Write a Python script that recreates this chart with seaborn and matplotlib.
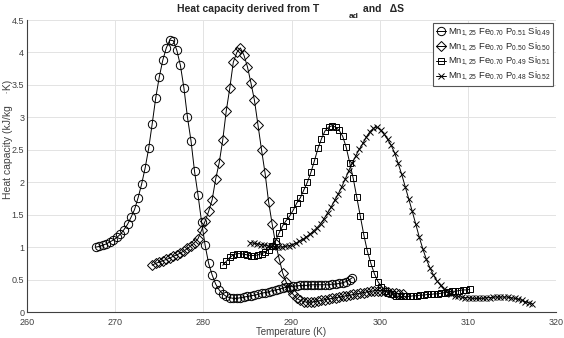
import numpy as np
import pandas as pd
import matplotlib
matplotlib.use("Agg")
import matplotlib.pyplot as plt
import seaborn as sns

# Mn1.25 Fe0.70 P0.51 Si0.49 (circles)
t_051 = [267.8, 268.2, 268.6, 269.0, 269.4, 269.8, 270.2, 270.6, 271.0, 271.4,
         271.8, 272.2, 272.6, 273.0, 273.4, 273.8, 274.2, 274.6, 275.0, 275.4,
         275.8, 276.2, 276.6, 277.0, 277.4, 277.8, 278.2, 278.6, 279.0, 279.4,
         279.8, 280.2, 280.6, 281.0, 281.4, 281.8, 282.2, 282.6, 283.0, 283.4,
         283.8, 284.2, 284.6, 285.0, 285.4, 285.8, 286.2, 286.6, 287.0, 287.4,
         287.8, 288.2, 288.6, 289.0, 289.4, 289.8, 290.2, 290.6, 291.0, 291.4,
         291.8, 292.2, 292.6, 293.0, 293.4, 293.8, 294.2, 294.6, 295.0, 295.4,
         295.8, 296.2, 296.6, 296.9]
cp_051 = [1.00, 1.01, 1.03, 1.05, 1.08, 1.11, 1.15, 1.20, 1.27, 1.35,
          1.46, 1.58, 1.76, 1.97, 2.22, 2.52, 2.90, 3.30, 3.62, 3.88,
          4.07, 4.19, 4.18, 4.03, 3.80, 3.45, 3.00, 2.64, 2.17, 1.80,
          1.39, 1.03, 0.75, 0.57, 0.43, 0.34, 0.28, 0.24, 0.22, 0.21,
          0.21, 0.22, 0.23, 0.24, 0.25, 0.26, 0.27, 0.29, 0.30, 0.31,
          0.33, 0.34, 0.35, 0.37, 0.38, 0.39, 0.40, 0.40, 0.41, 0.41,
          0.41, 0.42, 0.42, 0.42, 0.42, 0.42, 0.42, 0.43, 0.43, 0.44,
          0.45, 0.47, 0.50, 0.53]

# Mn1.25 Fe0.70 P0.50 Si0.50 (diamonds)
t_050 = [274.2, 274.6, 275.0, 275.4, 275.8, 276.2, 276.6, 277.0, 277.4, 277.8,
         278.2, 278.6, 279.0, 279.4, 279.8, 280.2, 280.6, 281.0, 281.4, 281.8,
         282.2, 282.6, 283.0, 283.4, 283.8, 284.2, 284.6, 285.0, 285.4, 285.8,
         286.2, 286.6, 287.0, 287.4, 287.8, 288.2, 288.6, 289.0, 289.4, 289.8,
         290.2, 290.6, 291.0, 291.4, 291.8, 292.2, 292.6, 293.0, 293.4, 293.8,
         294.2, 294.6, 295.0, 295.4, 295.8, 296.2, 296.6, 297.0, 297.4, 297.8,
         298.2, 298.6, 299.0, 299.4, 299.8, 300.2, 300.6, 301.0, 301.4, 301.8,
         302.2, 302.6]
cp_050 = [0.72, 0.75, 0.77, 0.79, 0.81, 0.83, 0.86, 0.88, 0.91, 0.94,
          0.98, 1.02, 1.07, 1.13, 1.26, 1.40, 1.55, 1.73, 2.05, 2.30,
          2.65, 3.10, 3.45, 3.85, 4.00, 4.07, 3.96, 3.78, 3.53, 3.26,
          2.88, 2.50, 2.14, 1.70, 1.36, 1.05, 0.82, 0.60, 0.46, 0.35,
          0.27, 0.21, 0.18, 0.16, 0.15, 0.15, 0.16, 0.17, 0.18, 0.19,
          0.20, 0.21, 0.22, 0.23, 0.24, 0.25, 0.26, 0.27, 0.28, 0.29,
          0.30, 0.31, 0.32, 0.33, 0.33, 0.33, 0.32, 0.31, 0.30, 0.29,
          0.28, 0.27]

# Mn1.25 Fe0.70 P0.49 Si0.51 (squares)
t_049 = [282.2, 282.6, 283.0, 283.4, 283.8, 284.2, 284.6, 285.0, 285.4, 285.8,
         286.2, 286.6, 287.0, 287.4, 287.8, 288.2, 288.6, 289.0, 289.4, 289.8,
         290.2, 290.6, 291.0, 291.4, 291.8, 292.2, 292.6, 293.0, 293.4, 293.8,
         294.2, 294.6, 295.0, 295.4, 295.8, 296.2, 296.6, 297.0, 297.4, 297.8,
         298.2, 298.6, 299.0, 299.4, 299.8, 300.2, 300.6, 301.0, 301.4, 301.8,
         302.2, 302.6, 303.0, 303.4, 303.8, 304.2, 304.6, 305.0, 305.4, 305.8,
         306.2, 306.6, 307.0, 307.4, 307.8, 308.2, 308.6, 309.0, 309.4, 309.8,
         310.2]
cp_049 = [0.72, 0.78, 0.84, 0.88, 0.90, 0.90, 0.89, 0.88, 0.87, 0.87,
          0.88, 0.90, 0.92, 0.96, 1.02, 1.10, 1.22, 1.33, 1.41, 1.48,
          1.57, 1.68, 1.76, 1.88, 2.00, 2.15, 2.33, 2.52, 2.67, 2.79,
          2.85, 2.87, 2.85, 2.80, 2.71, 2.54, 2.30, 2.06, 1.77, 1.48,
          1.19, 0.94, 0.75, 0.59, 0.47, 0.39, 0.33, 0.29, 0.27, 0.25,
          0.24, 0.24, 0.24, 0.24, 0.25, 0.25, 0.26, 0.26, 0.27, 0.27,
          0.28, 0.28, 0.29, 0.30, 0.31, 0.32, 0.32, 0.33, 0.34, 0.34,
          0.35]

# Mn1.25 Fe0.70 P0.48 Si0.52 (crosses)
t_048 = [285.3, 285.7, 286.1, 286.5, 286.9, 287.3, 287.7, 288.1, 288.5, 288.9,
         289.3, 289.7, 290.1, 290.5, 290.9, 291.3, 291.7, 292.1, 292.5, 292.9,
         293.3, 293.7, 294.1, 294.5, 294.9, 295.3, 295.7, 296.1, 296.5, 296.9,
         297.3, 297.7, 298.1, 298.5, 298.9, 299.3, 299.7, 300.1, 300.5, 300.9,
         301.3, 301.7, 302.1, 302.5, 302.9, 303.3, 303.7, 304.1, 304.5, 304.9,
         305.3, 305.7, 306.1, 306.5, 306.9, 307.3, 307.7, 308.1, 308.5, 308.9,
         309.3, 309.7, 310.1, 310.5, 310.9, 311.3, 311.7, 312.1, 312.5, 312.9,
         313.3, 313.7, 314.1, 314.5, 314.9, 315.3, 315.7, 316.1, 316.5, 316.9,
         317.3]
cp_048 = [1.07, 1.06, 1.05, 1.04, 1.03, 1.02, 1.01, 1.00, 1.00, 1.00,
          1.01, 1.02, 1.04, 1.06, 1.09, 1.12, 1.16, 1.20, 1.25, 1.30,
          1.36, 1.44, 1.53, 1.62, 1.72, 1.82, 1.93, 2.05, 2.18, 2.30,
          2.41, 2.51, 2.60, 2.70, 2.78, 2.83, 2.85, 2.81, 2.74, 2.66,
          2.57, 2.45, 2.29, 2.12, 1.93, 1.74, 1.55, 1.35, 1.15, 0.97,
          0.81, 0.68, 0.57, 0.48, 0.41, 0.35, 0.30, 0.27, 0.25, 0.24,
          0.23, 0.22, 0.22, 0.21, 0.21, 0.21, 0.21, 0.22, 0.22, 0.23,
          0.23, 0.23, 0.23, 0.23, 0.22, 0.21, 0.20, 0.18, 0.16, 0.14,
          0.13]

labels = [r'Mn$_{1,25}$ Fe$_{0.70}$ P$_{0.51}$ Si$_{0.49}$',
          r'Mn$_{1,25}$ Fe$_{0.70}$ P$_{0.50}$ Si$_{0.50}$',
          r'Mn$_{1,25}$ Fe$_{0.70}$ P$_{0.49}$ Si$_{0.51}$',
          r'Mn$_{1,25}$ Fe$_{0.70}$ P$_{0.48}$ Si$_{0.52}$']

sns.set_style("whitegrid")
plt.rcParams['font.family'] = ['Liberation Sans', 'DejaVu Sans']
plt.rcParams['mathtext.default'] = 'regular'

fig = plt.figure(figsize=(5.64, 3.38), dpi=100)
ax = fig.add_axes([27 / 564, 26 / 338, 529 / 564, 292 / 338])

series = [(t_051, cp_051, 'o', 6.0), (t_050, cp_050, 'D', 5.0),
          (t_049, cp_049, 's', 5.0), (t_048, cp_048, 'x', 4.5)]
for (t, cp, m, ms), lab in zip(series, labels):
    df = pd.DataFrame({'T': t, 'cp': cp})
    sns.lineplot(data=df, x='T', y='cp', ax=ax, color='black', lw=0.7,
                 marker=m, markersize=ms, markerfacecolor='none',
                 markeredgecolor='black', markeredgewidth=0.7, label=lab)

ax.set_xlim(260, 320)
ax.set_ylim(0, 4.5)
ax.set_xticks(range(260, 321, 10))
ax.set_yticks(np.arange(0, 4.51, 0.5))
ax.set_yticklabels(['0', '0.5', '1', '1.5', '2', '2.5', '3', '3.5', '4', '4.5'])
ax.grid(True, color='#e3e3e3', lw=0.7)
ax.tick_params(direction='in', length=3, width=0.6, labelsize=6.5,
               colors='#404040')
ax.tick_params(axis='x', pad=4)
ax.tick_params(axis='y', pad=2)
for s in ['top', 'right']:
    ax.spines[s].set_visible(False)
for s in ['left', 'bottom']:
    ax.spines[s].set_color('#404040')
    ax.spines[s].set_linewidth(0.8)

ax.set_xlabel('Temperature (K)', fontsize=7, color='#404040', labelpad=0)
ax.set_ylabel('Heat capacity (kJ/kg    ·K)', fontsize=7.5, color='#404040')
ax.yaxis.set_label_coords(-0.026, 0.59)

fig.text(319 / 564, 1 - 9 / 338, 'Heat capacity derived from T', ha='right',
         va='center', fontsize=7.5, fontweight='bold')
fig.text(354 / 564, 1 - 17 / 338, 'ad', ha='center', va='center',
         fontsize=6, fontweight='bold')
fig.text(363 / 564, 1 - 9 / 338, 'and   ΔS', ha='left', va='center',
         fontsize=7.5, fontweight='bold')

leg = ax.legend(loc='upper right', fontsize=6.8, handlelength=1.0,
                handletextpad=0.2, borderpad=0.3, labelspacing=0.2,
                borderaxespad=0.3, fancybox=False, framealpha=1)
leg.get_frame().set_edgecolor('#555555')
leg.get_frame().set_linewidth(0.8)

fig.savefig('out.png', dpi=100)
